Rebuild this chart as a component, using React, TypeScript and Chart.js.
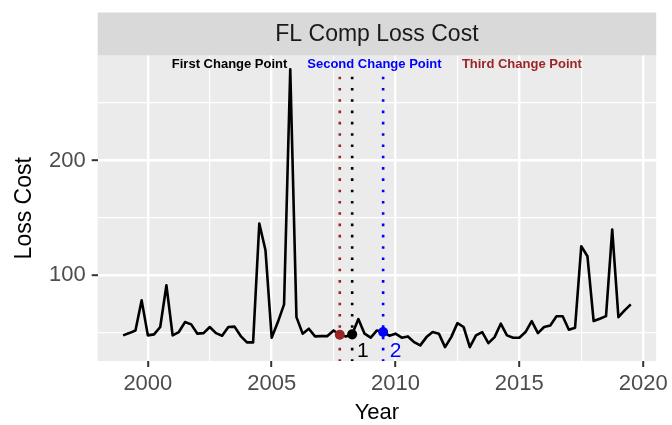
import React, { useEffect, useRef } from "react";
import { Chart, registerables } from "chart.js";

Chart.register(...registerables);

// ---------- data ----------
const quarters: number[] = [
  1999.0, 1999.25, 1999.5, 1999.75,
  2000.0, 2000.25, 2000.5, 2000.75,
  2001.0, 2001.25, 2001.5, 2001.75,
  2002.0, 2002.25, 2002.5, 2002.75,
  2003.0, 2003.25, 2003.5, 2003.75,
  2004.0, 2004.25, 2004.5, 2004.75,
  2005.0, 2005.25, 2005.5, 2005.75,
  2006.0, 2006.25, 2006.5, 2006.75,
  2007.0, 2007.25, 2007.5, 2007.75,
  2008.0, 2008.25, 2008.5, 2008.75,
  2009.0, 2009.25, 2009.5, 2009.75,
  2010.0, 2010.25, 2010.5, 2010.75,
  2011.0, 2011.25, 2011.5, 2011.75,
  2012.0, 2012.25, 2012.5, 2012.75,
  2013.0, 2013.25, 2013.5, 2013.75,
  2014.0, 2014.25, 2014.5, 2014.75,
  2015.0, 2015.25, 2015.5, 2015.75,
  2016.0, 2016.25, 2016.5, 2016.75,
  2017.0, 2017.25, 2017.5, 2017.75,
  2018.0, 2018.25, 2018.5, 2018.75,
  2019.0, 2019.25, 2019.5,
];

const lossCost: number[] = [
  47.7, 49.7, 52.0, 78.2,
  47.7, 48.6, 55.0, 91.3,
  47.7, 50.6, 59.3, 57.3,
  49.2, 49.7, 55.0, 49.7,
  47.4, 55.0, 55.3, 47.1,
  41.6, 41.6, 145.0, 121.8,
  45.7, 59.3, 74.7, 279.3,
  63.6, 49.2, 53.5, 46.8,
  47.1, 47.1, 52.0, 48.3,
  46.8, 48.6, 61.9, 49.2,
  45.7, 52.0, 50.6, 47.4,
  49.2, 45.7, 46.8, 41.8,
  39.0, 46.2, 50.6, 49.2,
  37.5, 46.2, 58.4, 55.0,
  37.5, 47.7, 50.6, 41.0,
  46.2, 57.9, 47.7, 45.7,
  45.7, 50.6, 60.2, 49.7,
  55.0, 56.4, 64.3, 64.3,
  52.6, 54.4, 125.3, 116.6,
  60.2, 62.2, 64.5, 139.8,
  63.6, 69.5, 74.7,
];

// change points: first, second, third
const cpYears: number[] = [2008.25, 2009.5, 2007.75];
const cpValues: number[] = [48.6, 50.6, 48.3];
const cpColors: string[] = ["#000000", "#0000FF", "#9B2525"];
const cpLineTop = 273;

const cpTitles: string[] = ["First Change Point", "Second Change Point", "Third Change Point"];
const cpTitleX: number[] = [2003.3, 2009.15, 2015.1];
const cpTitleY = 283.5;

const cpNumbers: string[] = ["1", "2"];
const cpNumberX: number[] = [2008.68, 2010.0];
const cpNumberY: number[] = [34.2, 34.2];
const cpNumberColors: string[] = ["#000000", "#0000FF"];

const xMajor: number[] = [2000, 2005, 2010, 2015, 2020];
const xMinor: number[] = [1997.5, 2002.5, 2007.5, 2012.5, 2017.5];
const yMajor: number[] = [100, 200];
const yMinor: number[] = [50, 150, 250];

const X_MIN = 1997.975;
const X_MAX = 2020.525;
const Y_MIN = 25.4;
const Y_MAX = 291.4;

const stripTitle = "FL Comp Loss Cost";
const xTitle = "Year";
const yTitle = "Loss Cost";

const FONT = '"Liberation Sans", Arial, Helvetica, sans-serif';
const STRIP_TOP = 12.5;

export default function App() {
  const ref = useRef<HTMLCanvasElement | null>(null);

  useEffect(() => {
    const canvas = ref.current;
    if (!canvas) return;

    const bgPlugin = {
      id: "ggbg",
      beforeDraw(chart: any) {
        const { ctx, chartArea: a } = chart;
        ctx.save();
        ctx.fillStyle = "#EBEBEB";
        ctx.fillRect(a.left, a.top, a.right - a.left, a.bottom - a.top);
        ctx.fillStyle = "#D9D9D9";
        ctx.fillRect(a.left, STRIP_TOP, a.right - a.left, a.top - STRIP_TOP);
        ctx.fillStyle = "#1A1A1A";
        ctx.font = `23px ${FONT}`;
        ctx.textAlign = "center";
        ctx.textBaseline = "middle";
        ctx.fillText(stripTitle, (a.left + a.right) / 2, (STRIP_TOP + a.top) / 2 + 1);
        ctx.restore();
      },
      afterDatasetsDraw(chart: any) {
        const { ctx } = chart;
        const xs = chart.scales.x;
        const ys = chart.scales.y;
        ctx.save();
        ctx.textAlign = "center";
        ctx.textBaseline = "middle";
        ctx.font = `bold 13px ${FONT}`;
        cpTitles.forEach((t, i) => {
          ctx.fillStyle = cpColors[i];
          ctx.fillText(t, xs.getPixelForValue(cpTitleX[i]), ys.getPixelForValue(cpTitleY));
        });
        ctx.font = `21px ${FONT}`;
        cpNumbers.forEach((t, i) => {
          ctx.fillStyle = cpNumberColors[i];
          ctx.fillText(t, xs.getPixelForValue(cpNumberX[i]), ys.getPixelForValue(cpNumberY[i]));
        });
        ctx.restore();
      },
    };

    const isMajorX = (v: number) => xMajor.includes(v);
    const isMajorY = (v: number) => yMajor.includes(v);

    const lineData = quarters.map((q, i) => ({ x: q, y: lossCost[i] }));

    const vlineSets = cpYears.map((yr, i) => ({
      type: "line" as const,
      data: [
        { x: yr, y: cpLineTop },
        { x: yr, y: Y_MIN - 20 },
      ],
      borderColor: cpColors[i],
      borderWidth: 2.6,
      borderDash: [2.6, 8.7],
      borderCapStyle: "butt",
      pointRadius: 0,
      fill: false,
      order: 3,
    }));

    const chart = new Chart(canvas, {
      type: "line",
      data: {
        datasets: [
          {
            type: "line",
            data: cpYears.map((yr, i) => ({ x: yr, y: cpValues[i] })),
            showLine: false,
            pointRadius: 5,
            pointBackgroundColor: cpColors,
            pointBorderColor: cpColors,
            pointBorderWidth: 0,
            order: 1,
          } as any,
          {
            type: "line",
            data: lineData,
            borderColor: "#000000",
            borderWidth: 2.6,
            pointRadius: 0,
            tension: 0,
            fill: false,
            borderJoinStyle: "round",
            order: 2,
          } as any,
          ...(vlineSets as any[]),
        ],
      },
      options: {
        responsive: false,
        animation: false,
        devicePixelRatio: 1,
        events: [],
        layout: { padding: { left: 0, right: 15.3, top: 55.5, bottom: 0 } },
        plugins: {
          legend: { display: false },
          tooltip: { enabled: false },
          title: { display: false },
        },
        scales: {
          x: {
            type: "linear",
            min: X_MIN,
            max: X_MAX,
            afterBuildTicks: (s: any) => {
              s.ticks = [...xMinor, ...xMajor].sort((a, b) => a - b).map((v) => ({ value: v }));
            },
            afterFit: (s: any) => {
              s.height = 64;
            },
            border: { display: false },
            grid: {
              color: "#FFFFFF",
              lineWidth: (c: any) => (isMajorX(c.tick?.value) ? 2.4 : 1.2),
              tickColor: (c: any) => (isMajorX(c.tick?.value) ? "#333333" : "rgba(0,0,0,0)"),
              tickWidth: 2,
              tickLength: 6,
              drawTicks: true,
            },
            ticks: {
              autoSkip: false,
              maxRotation: 0,
              padding: 4,
              color: "#4D4D4D",
              font: { family: FONT, size: 22 },
              callback: (v: any) => (isMajorX(Number(v)) ? String(v) : ""),
            },
            title: {
              display: true,
              text: xTitle,
              color: "#000000",
              font: { family: FONT, size: 22, lineHeight: 1 },
              padding: { top: 0, bottom: 1 },
            },
          },
          y: {
            type: "linear",
            min: Y_MIN,
            max: Y_MAX,
            afterBuildTicks: (s: any) => {
              s.ticks = [...yMinor, ...yMajor].sort((a, b) => a - b).map((v) => ({ value: v }));
            },
            afterFit: (s: any) => {
              s.width = 97.7;
            },
            border: { display: false },
            grid: {
              color: "#FFFFFF",
              lineWidth: (c: any) => (isMajorY(c.tick?.value) ? 2.4 : 1.2),
              tickColor: (c: any) => (isMajorY(c.tick?.value) ? "#333333" : "rgba(0,0,0,0)"),
              tickWidth: 2,
              tickLength: 6,
              drawTicks: true,
            },
            ticks: {
              autoSkip: false,
              padding: 6,
              color: "#4D4D4D",
              font: { family: FONT, size: 22 },
              callback: (v: any) => (isMajorY(Number(v)) ? String(v) : ""),
            },
            title: {
              display: true,
              text: yTitle,
              color: "#000000",
              font: { family: FONT, size: 23, lineHeight: 1 },
              padding: { top: 13.5, bottom: 0 },
            },
          },
        },
      },
      plugins: [bgPlugin],
    } as any);

    return () => chart.destroy();
  }, []);

  return (
    <div style={{ position: "absolute", left: 0, top: 0, width: 672, height: 425, background: "#FFFFFF" }}>
      <canvas ref={ref} width={672} height={425} style={{ display: "block", width: 672, height: 425 }} />
    </div>
  );
}
